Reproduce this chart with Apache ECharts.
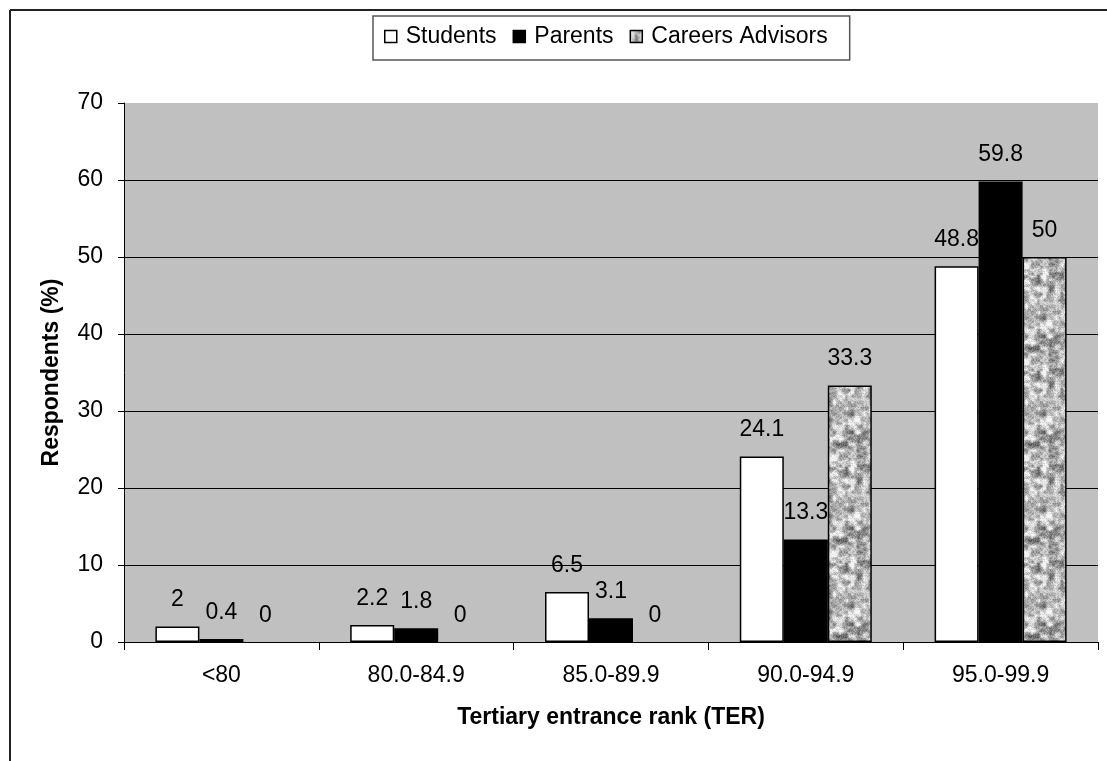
<!DOCTYPE html>
<html>
<head>
<meta charset="utf-8">
<script src="https://cdn.jsdelivr.net/npm/echarts@6/dist/echarts.min.js"></script>
<style>
html,body{margin:0;padding:0;background:#fff;}
#chart{width:1107px;height:761px;}
</style>
</head>
<body>
<div id="chart"></div>
<script>
const categories = ['<80', '80.0-84.9', '85.0-89.9', '90.0-94.9', '95.0-99.9'];
const students = [2, 2.2, 6.5, 24.1, 48.8];
const parents = [0.4, 1.8, 3.1, 13.3, 59.8];
const advisors = [0, 0, 0, 33.3, 50];
const seriesNames = ['Students', 'Parents', 'Careers Advisors'];

// deterministic granite-like texture for the third series
function makeTexture() {
  const size = 96;
  const c = document.createElement('canvas');
  c.width = size; c.height = size;
  const ctx = c.getContext('2d');
  function hash(x, y, s) {
    let h = (x * 374761393 + y * 668265263 + s * 1442695041) | 0;
    h = Math.imul(h ^ (h >>> 13), 1274126177);
    h = h ^ (h >>> 16);
    return ((h >>> 0) % 10000) / 10000;
  }
  function noise(x, y, cell, s) {
    const n = size / cell;
    const gx = Math.floor(x / cell), gy = Math.floor(y / cell);
    const fx = (x % cell) / cell, fy = (y % cell) / cell;
    const a = hash(gx % n, gy % n, s), b = hash((gx + 1) % n, gy % n, s);
    const cc = hash(gx % n, (gy + 1) % n, s), d = hash((gx + 1) % n, (gy + 1) % n, s);
    const sx = fx * fx * (3 - 2 * fx), sy = fy * fy * (3 - 2 * fy);
    return (a * (1 - sx) + b * sx) * (1 - sy) + (cc * (1 - sx) + d * sx) * sy;
  }
  const img = ctx.createImageData(size, size);
  for (let y = 0; y < size; y++) {
    for (let x = 0; x < size; x++) {
      let v = 0.45 * noise(x, y, 6, 1) + 0.35 * noise(x, y, 3, 2) + 0.2 * hash(x, y, 7);
      v = Math.min(1, Math.max(0, (v - 0.5) * 1.5 + 0.55));
      let g = Math.round(90 + v * 165);
      if (g > 245) g = 245;
      const i = (y * size + x) * 4;
      img.data[i] = g; img.data[i + 1] = g; img.data[i + 2] = g; img.data[i + 3] = 255;
    }
  }
  ctx.putImageData(img, 0, 0);
  return c;
}
const texture = makeTexture();

const FONT = "'Liberation Sans', Arial, sans-serif";
const FS = 23;
const chart = echarts.init(document.getElementById('chart'), null, { renderer: 'canvas' });

const labelCfg = {
  show: true,
  position: 'top',
  distance: 15,
  color: '#000',
  fontSize: FS,
  fontFamily: FONT
};

function mkSeries(name, data, color) {
  return {
    name: name,
    type: 'bar',
    data: data.map(v => ({ value: v, itemStyle: { borderWidth: v === 0 ? 0 : 1.5 } })),
    barWidth: 44,
    barGap: '0%',
    itemStyle: { color: color, borderColor: '#000', borderWidth: 1.5 },
    label: labelCfg,
    emphasis: { disabled: true },
    animation: false
  };
}

chart.setOption({
  animation: false,
  backgroundColor: '#fff',
  textStyle: { fontFamily: FONT },
  legend: {
    data: seriesNames,
    left: 373,
    top: 16,
    padding: [9, 22, 12, 11],
    borderColor: '#555',
    borderWidth: 1.5,
    backgroundColor: '#fff',
    itemWidth: 12,
    itemHeight: 12,
    itemGap: 16,
    icon: 'rect',
    itemStyle: { borderColor: '#000', borderWidth: 1.5 },
    textStyle: { fontSize: FS, color: '#000', fontFamily: FONT, padding: [0, 0, 0, 4] }
  },
  grid: {
    left: 124,
    right: 9,
    top: 103,
    bottom: 119,
    show: true,
    backgroundColor: '#c0c0c0',
    borderWidth: 0
  },
  xAxis: {
    type: 'category',
    data: categories,
    name: 'Tertiary entrance rank (TER)',
    nameLocation: 'middle',
    nameGap: 64,
    nameTextStyle: { fontSize: FS, fontWeight: 'bold', color: '#000', fontFamily: FONT },
    axisLine: { lineStyle: { color: '#000', width: 1 } },
    axisTick: { show: true, length: 8, lineStyle: { color: '#000' } },
    axisLabel: { fontSize: FS, color: '#000', margin: 22, fontFamily: FONT },
    splitLine: { show: false }
  },
  yAxis: {
    type: 'value',
    min: 0,
    max: 70,
    interval: 10,
    name: 'Respondents (%)',
    nameLocation: 'middle',
    nameGap: 61,
    nameTextStyle: { fontSize: FS, fontWeight: 'bold', color: '#000', fontFamily: FONT },
    axisLine: { show: true, lineStyle: { color: '#000', width: 1 } },
    axisTick: { show: true, length: 6, lineStyle: { color: '#000' } },
    axisLabel: { fontSize: FS, color: '#000', margin: 21, fontFamily: FONT },
    splitLine: {
      show: true,
      showMaxLine: false,
      lineStyle: { color: ['#000', '#000', '#000', '#000', '#000', '#000', '#000', '#c0c0c0'], width: 1 }
    }
  },
  series: [
    mkSeries(seriesNames[0], students, '#ffffff'),
    mkSeries(seriesNames[1], parents, '#000000'),
    mkSeries(seriesNames[2], advisors, { image: texture, repeat: 'repeat' })
  ],
  graphic: [
    { type: 'line', shape: { x1: 10, y1: 10, x2: 1107, y2: 10 }, style: { stroke: '#222', lineWidth: 2 }, silent: true },
    { type: 'line', shape: { x1: 10, y1: 10, x2: 10, y2: 761 }, style: { stroke: '#222', lineWidth: 2 }, silent: true }
  ]
});
</script>
</body>
</html>
